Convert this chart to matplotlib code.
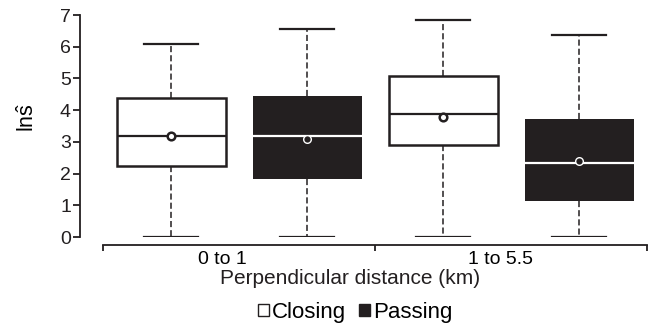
import matplotlib
matplotlib.use("Agg")
import matplotlib.pyplot as plt
from matplotlib.patches import Patch
from matplotlib.transforms import ScaledTranslation

plt.rcParams["font.family"] = ["Liberation Sans", "DejaVu Sans"]
plt.rcParams["mathtext.fontset"] = "custom"
plt.rcParams["mathtext.rm"] = "Liberation Sans"
plt.rcParams["mathtext.it"] = "Liberation Sans:italic"

INK = "#231f20"

groups = ["0 to 1", "1 to 5.5"]
series = ["Closing", "Passing"]

# box summaries, ordered: 0-1 closing, 0-1 passing, 1-5.5 closing, 1-5.5 passing
whislo = [0.0, 0.0, 0.0, 0.0]
q1 = [2.23, 1.82, 2.91, 1.12]
med = [3.20, 3.20, 3.89, 2.33]
q3 = [4.37, 4.45, 5.07, 3.71]
whishi = [6.10, 6.55, 6.85, 6.38]
means = [3.20, 3.10, 3.77, 2.41]

stats = []
for i in range(4):
    stats.append(dict(whislo=whislo[i], q1=q1[i], med=med[i], q3=q3[i],
                      whishi=whishi[i], mean=means[i], fliers=[]))

fig = plt.figure(figsize=(6.55, 3.26), dpi=100)
ax = fig.add_axes([80 / 655, 89 / 326, 574 / 655, 222 / 326])

positions = [1, 2, 3, 4]
art = ax.bxp(stats, positions=positions, widths=0.8, capwidths=0.4,
             showmeans=True, patch_artist=True, manage_ticks=False)

for i, box in enumerate(art["boxes"]):
    passing = i % 2 == 1
    box.set_facecolor(INK if passing else "white")
    box.set_edgecolor(INK)
    box.set_linewidth(0 if passing else 1.8)
    m = art["medians"][i]
    m.set_color("white" if passing else INK)
    m.set_linewidth(1.6)
    mk = art["means"][i]
    mk.set_marker("o")
    mk.set_markersize(5.5)
    mk.set_markeredgewidth(1.8 if not passing else 1.0)
    mk.set_markeredgecolor("white" if passing else INK)
    mk.set_markerfacecolor(INK if passing else "white")
for w in art["whiskers"]:
    w.set_color(INK)
    w.set_linewidth(1.1)
    w.set_linestyle((0, (4.0, 2.0)))
for c in art["caps"]:
    c.set_color(INK)
    c.set_linewidth(1.6)

ax.set_ylim(0, 7)
ax.set_xlim(0.33, 4.55)
ax.set_yticks(range(8))
ax.tick_params(axis="y", labelsize=14, width=1.3, length=5, pad=1.5,
               colors=INK)

for s in ["top", "right"]:
    ax.spines[s].set_visible(False)
for s in ["left", "bottom"]:
    ax.spines[s].set_linewidth(1.3)
    ax.spines[s].set_color(INK)
ax.spines["bottom"].set_position(("outward", 5.8))
ax.spines["bottom"].set_bounds(0.5, 4.5)

ax.set_xticks([0.5, 2.5, 4.5])
ax.set_xticklabels([])
ax.tick_params(axis="x", which="major", length=4.5, width=1.3, colors=INK)
ax.set_xticks([1.5, 3.5], minor=True)
ax.set_xticklabels(groups, minor=True)
ax.tick_params(axis="x", which="minor", length=0, pad=4.5, labelsize=14)
for lab, dx in zip(ax.get_xticklabels(minor=True), [-17, -11]):
    lab.set_transform(lab.get_transform()
                      + ScaledTranslation(dx / 100, 0, fig.dpi_scale_trans))

ax.set_ylabel(r"ln$\hat{\mathrm{s}}$", fontsize=15.5)
ax.yaxis.set_label_coords(-0.072, 0.54)

fig.text(350 / 655, (326 - 284.5) / 326, "Perpendicular distance (km)",
         ha="center", va="baseline", fontsize=15, color=INK)

handles = [Patch(facecolor="white", edgecolor=INK, linewidth=1.0),
           Patch(facecolor=INK, edgecolor=INK, linewidth=1.0)]
fig.legend(handles, series, loc="center", ncol=2, frameon=False,
           bbox_to_anchor=(355 / 655, 1 - 312.5 / 326), fontsize=16,
           handlelength=0.5, handleheight=0.5, handletextpad=0.12,
           columnspacing=0.6, borderpad=0, borderaxespad=0)

fig.savefig("out.png", dpi=100)
